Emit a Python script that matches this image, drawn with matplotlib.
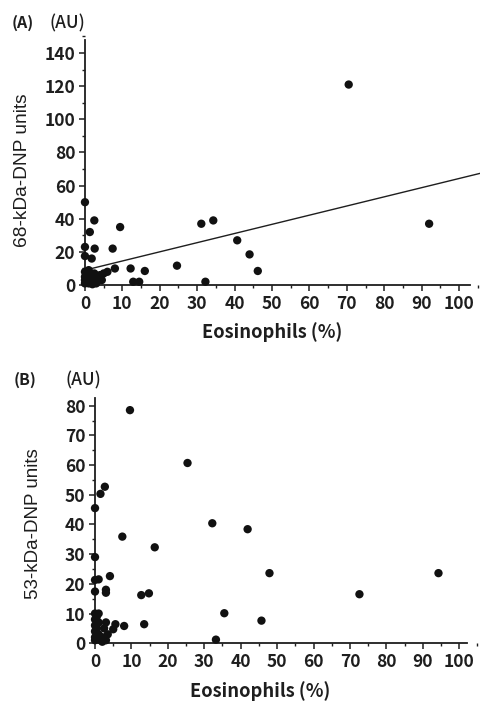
import matplotlib
matplotlib.use("Agg")
import matplotlib.pyplot as plt
import numpy as np
from matplotlib.ticker import MultipleLocator

plt.rcParams['font.family'] = ['Noto Sans CJK JP', 'DejaVu Sans']

# ---- Panel A data: 68-kDa-DNP units vs eosinophils (%)
eos_a = [70.5, 92.0, 0.0, 1.3, 2.5, 0.0, 0.0, 2.6, 1.8, 7.4, 9.4, 8.0, 12.2, 12.9, 14.5,
         16.0, 24.6, 31.1, 34.3, 32.2, 40.7, 44.0, 46.2,
         0.0, 0.0, 0.0, 0.5, 1.0, 1.5, 2.0, 2.5, 3.0, 3.5, 4.0, 5.0, 6.0, 4.5, 1.0, 0.0, 2.0, 3.0, 1.0]
dnp68 = [121.0, 37.0, 50.0, 32.0, 39.0, 23.0, 17.5, 22.0, 16.0, 22.0, 35.0, 10.0, 10.0, 2.0, 2.0,
         8.5, 11.7, 37.0, 39.0, 2.0, 27.0, 18.5, 8.5,
         8.0, 5.0, 3.0, 2.0, 6.0, 4.0, 2.0, 7.0, 5.0, 3.0, 6.0, 7.0, 8.0, 3.0, 1.0, 1.0, 0.5, 1.0, 9.0]
fit_slope_a = 0.553
fit_intercept_a = 9.0
fit_x_a = [0, 106]

# ---- Panel B data: 53-kDa-DNP units vs eosinophils (%)
eos_b = [9.6, 25.4, 0.0, 1.5, 2.7, 32.2, 41.9, 7.5, 16.4, 0.0, 47.9, 94.3, 72.6,
         0.0, 1.0, 4.1, 0.0, 3.0, 3.0, 12.7, 14.8, 35.5, 45.7, 13.5, 33.2, 5.6, 8.0, 5.0,
         0.0, 0.0, 0.0, 0.0, 0.0, 0.0, 0.5, 1.0, 1.0, 1.5, 1.0, 0.5, 2.0, 2.5, 3.0, 3.0, 2.0, 3.5]
dnp53 = [78.5, 60.7, 45.5, 50.3, 52.7, 40.4, 38.4, 35.9, 32.3, 29.0, 23.6, 23.6, 16.5,
         21.3, 21.5, 22.6, 17.4, 18.0, 17.0, 16.2, 16.8, 10.1, 7.6, 6.4, 1.2, 6.4, 5.8, 4.7,
         10.0, 8.0, 6.0, 4.0, 2.0, 1.0, 9.0, 7.0, 3.0, 1.0, 10.0, 5.0, 2.0, 5.0, 7.0, 1.0, 0.5, 3.0]

xticks = list(range(0, 101, 10))
yticks_a = list(range(0, 141, 20))
yticks_b = list(range(0, 81, 10))

W, H = 480, 703
fig = plt.figure(figsize=(W / 100, H / 100), dpi=100)

INK = '#1e1e1e'


def style_axes(ax, xbound, ybound, yminor):
    for s in ['top', 'right']:
        ax.spines[s].set_visible(False)
    ax.spines['left'].set_position(('data', 0))
    ax.spines['bottom'].set_position(('data', 0))
    ax.spines['left'].set_bounds(0, ybound)
    ax.spines['bottom'].set_bounds(0, xbound)
    for s in ['left', 'bottom']:
        ax.spines[s].set_linewidth(1.3)
        ax.spines[s].set_color(INK)
    ax.xaxis.set_minor_locator(MultipleLocator(5))
    ax.yaxis.set_minor_locator(MultipleLocator(yminor))
    ax.tick_params(which='major', direction='out', length=4, width=1.1, color=INK,
                   labelsize=12.5, pad=3)
    ax.tick_params(which='minor', direction='out', length=2.5, width=1.0, color=INK)
    for lab in ax.get_xticklabels() + ax.get_yticklabels():
        lab.set_fontfamily(['Noto Sans CJK JP', 'DejaVu Sans'])
        lab.set_fontweight('bold')
        lab.set_color(INK)


# Panel A axes: data 0 at px 85, 100 at px 459; y 0 at py 285, 140 at py 53
axA = fig.add_axes([70 / W, 1 - 295 / H, 410 / W, 260 / H])
axA.set_xlim(-4.0, 105.6)
axA.set_ylim(-6.0, 150.9)
axA.scatter(eos_a, dnp68, s=36, color='#111111', edgecolors='none', zorder=3, clip_on=False)
fx = np.array(fit_x_a, dtype=float)
axA.plot(fx, fit_intercept_a + fit_slope_a * fx, color=INK, lw=1.0, zorder=2, clip_on=True)
axA.set_xticks(xticks)
axA.set_yticks(yticks_a)
style_axes(axA, 103, 148, 10)

# Panel B axes: data 0 at px 95, 100 at px 459.3; y 0 at py 643.3, 80 at py 405.7
axB = fig.add_axes([80 / W, 1 - 653 / H, 400 / W, 258 / H])
axB.set_xlim(-4.12, 105.7)
axB.set_ylim(-3.3, 83.6)
axB.scatter(eos_b, dnp53, s=36, color='#111111', edgecolors='none', zorder=3, clip_on=False)
axB.set_xticks(xticks)
axB.set_yticks(yticks_b)
style_axes(axB, 102, 82.5, 5)

lab_font = ['Noto Sans CJK JP', 'DejaVu Sans']
# Panel labels
fig.text(22.5 / W, 1 - 23 / H, '(A)', ha='center', va='center', fontsize=11.5, fontweight='bold', family=lab_font, color=INK)
fig.text(67.5 / W, 1 - 23 / H, '(AU)', ha='center', va='center', fontsize=12.5, fontweight='medium', family=lab_font, color=INK)
fig.text(25 / W, 1 - 380 / H, '(B)', ha='center', va='center', fontsize=11.5, fontweight='bold', family=lab_font, color=INK)
fig.text(83 / W, 1 - 380 / H, '(AU)', ha='center', va='center', fontsize=12.5, fontweight='medium', family=lab_font, color=INK)

# Axis titles
fig.text(23 / W, 1 - 170 / H, '68-kDa-DNP units', rotation=90, ha='center', va='center',
         fontsize=13.8, family=['Liberation Sans', 'DejaVu Sans'], color=INK)
fig.text(34 / W, 1 - 524 / H, '53-kDa-DNP units', rotation=90, ha='center', va='center',
         fontsize=13.5, family=['Liberation Sans', 'DejaVu Sans'], color=INK)
fig.text(272 / W, 1 - 332 / H, 'Eosinophils (%)', ha='center', va='center',
         fontsize=13.2, fontweight='bold', family=lab_font, color=INK)
fig.text(260 / W, 1 - 691 / H, 'Eosinophils (%)', ha='center', va='center',
         fontsize=13.2, fontweight='bold', family=lab_font, color=INK)

fig.savefig('out.png', dpi=100)
